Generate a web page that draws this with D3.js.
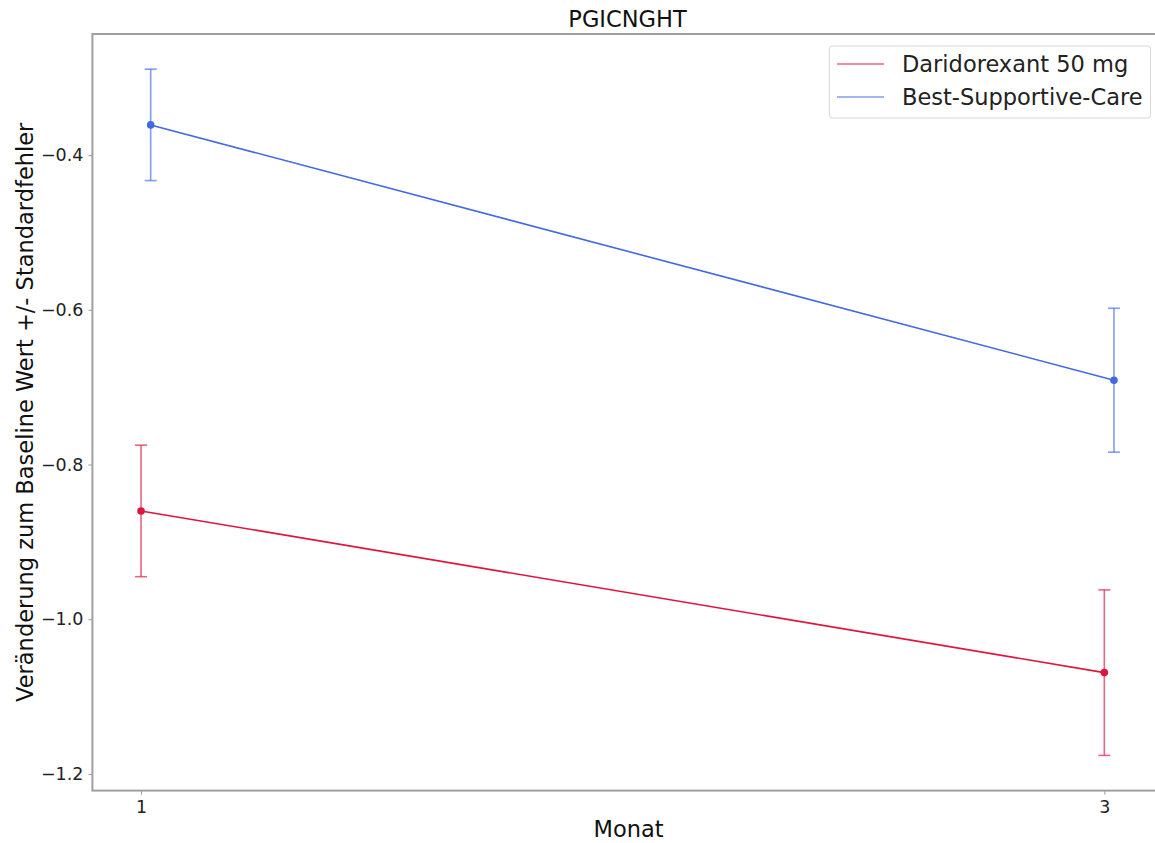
<!DOCTYPE html>
<html><head><meta charset="utf-8">
<script src="https://cdn.jsdelivr.net/npm/d3@7"></script>
<style>body{margin:0;background:#fff}svg{display:block;font-family:"DejaVu Sans",sans-serif}</style>
</head><body><svg id="c" width="1155" height="843"></svg>
<script>
const months = [1, 3];
const seriesNames = ["Daridorexant 50 mg", "Best-Supportive-Care"];
const seriesColors = ["#e0143c", "#4169e1"];
const xOffsets = [0, 0.02];
const daridorexantMean = [-0.86, -1.069];
const daridorexantSE = [0.085, 0.107];
const bscMean = [-0.361, -0.691];
const bscSE = [0.072, 0.093];
const yTicks = [-1.2, -1.0, -0.8, -0.6, -0.4];
const xTicks = [1, 3];

const svg = d3.select("#c");
const L = 92.4, R = 1162.6, T = 34, B = 790.6;
const x = d3.scaleLinear().domain([0.899, 3.121]).range([L, R]);
const y = d3.scaleLinear().domain([-1.2215, -0.2435]).range([B, T]);

const series = [
  {name: seriesNames[0], color: seriesColors[0], off: xOffsets[0], mean: daridorexantMean, se: daridorexantSE},
  {name: seriesNames[1], color: seriesColors[1], off: xOffsets[1], mean: bscMean, se: bscSE}
];

// axes
const yAx = svg.append("g").attr("transform", `translate(${L},0)`)
  .call(d3.axisLeft(y).tickValues(yTicks).tickSize(4).tickPadding(5).tickFormat(d => d3.format(".1f")(d).replace("-", "−")));
const xAx = svg.append("g").attr("transform", `translate(0,${B})`)
  .call(d3.axisBottom(x).tickValues(xTicks).tickSize(4).tickPadding(6).tickFormat(d3.format("d")));
[yAx, xAx].forEach(g => {
  g.select(".domain").remove();
  g.selectAll(".tick line").attr("stroke", "#999").attr("stroke-width", 1);
  g.selectAll(".tick text").attr("fill", "#222").style("font-size", "17.5px").style("font-family", "DejaVu Sans");
});
// frame
svg.append("rect").attr("x", L).attr("y", T).attr("width", R - L).attr("height", B - T)
  .attr("fill", "none").attr("stroke", "#a0a0a0").attr("stroke-width", 2);

const line = d3.line().x(d => d[0]).y(d => d[1]);
series.forEach(s => {
  const g = svg.append("g");
  const pts = months.map((m, i) => [x(m + s.off), y(s.mean[i])]);
  g.append("path").attr("d", line(pts)).attr("fill", "none").attr("stroke", s.color).attr("stroke-width", 1.6);
  months.forEach((m, i) => {
    const cx = x(m + s.off), y1 = y(s.mean[i] + s.se[i]), y2 = y(s.mean[i] - s.se[i]);
    g.append("line").attr("x1", cx).attr("x2", cx).attr("y1", y1).attr("y2", y2)
      .attr("stroke", s.color).attr("stroke-opacity", 0.65).attr("stroke-width", 1.6);
    [y1, y2].forEach(yy => g.append("line").attr("x1", cx - 6).attr("x2", cx + 6).attr("y1", yy).attr("y2", yy)
      .attr("stroke", s.color).attr("stroke-opacity", 0.65).attr("stroke-width", 1.6));
    g.append("circle").attr("cx", cx).attr("cy", y(s.mean[i])).attr("r", 3.8).attr("fill", s.color);
  });
});

// title and labels
svg.append("text").attr("x", (L + R) / 2).attr("y", 26.5).attr("text-anchor", "middle")
  .style("font-size", "22.5px").attr("fill", "#111").text("PGICNGHT");
svg.append("text").attr("x", (L + R) / 2 + 1).attr("y", 837).attr("text-anchor", "middle")
  .style("font-size", "22.5px").attr("fill", "#111").text("Monat");
svg.append("text").attr("transform", `translate(33,${(T + B) / 2}) rotate(-90)`).attr("text-anchor", "middle")
  .style("font-size", "22.5px").attr("fill", "#111").text("Veränderung zum Baseline Wert +/- Standardfehler");

// legend
const lg = svg.append("g");
lg.append("rect").attr("x", 829.5).attr("y", 46).attr("width", 321).attr("height", 72).attr("rx", 3)
  .attr("fill", "#fff").attr("stroke", "#d8d8d8").attr("stroke-width", 1);
series.forEach((s, i) => {
  const yy = 64 + i * 33;
  lg.append("line").attr("x1", 837).attr("x2", 884).attr("y1", yy).attr("y2", yy)
    .attr("stroke", s.color).attr("stroke-opacity", 0.65).attr("stroke-width", 1.6);
  lg.append("text").attr("x", 902).attr("y", yy + 8).style("font-size", "22.5px").attr("fill", "#222").text(s.name);
});
</script></body></html>
